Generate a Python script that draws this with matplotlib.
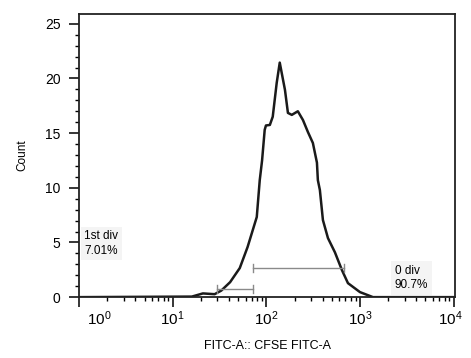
import numpy as np
import matplotlib
matplotlib.use("Agg")
import matplotlib.pyplot as plt
import matplotlib.transforms as mtransforms
from matplotlib.ticker import FixedLocator, LogLocator, NullFormatter, MultipleLocator

plt.rcParams['font.family'] = ['Liberation Sans', 'DejaVu Sans']
plt.rcParams['mathtext.default'] = 'regular'

# Histograma CFSE
fitc = [1, 16, 21, 28, 33, 41, 52, 63, 79, 85, 90, 96, 99, 109, 117, 129, 139,
        158, 170, 187, 217, 246, 278, 314, 347, 355, 373, 402, 455, 540, 642,
        744, 1000, 1377, 10000]
count = [0, 0.05, 0.34, 0.27, 0.6, 1.37, 2.66, 4.58, 7.33, 10.7, 12.5, 15.3,
         15.7, 15.75, 16.5, 19.6, 21.45, 18.96, 16.85, 16.67, 17.0, 16.2, 15.1,
         14.1, 12.3, 10.7, 9.8, 7.05, 5.4, 4.1, 2.47, 1.28, 0.46, 0, 0]

# Compuertas: (x_min, x_max, altura)
gates = [
    (29.6, 71.8, 0.75),
    (71.8, 675, 2.66),
]

xticks = [1, 10, 100, 1000, 10000]
xticklabels = ["10$^{0}$", "10$^{1}$", "10$^{2}$", "10$^{3}$", "10$^{4}$"]

fig = plt.figure(figsize=(4.71, 3.58), dpi=100)
ax = fig.add_axes([0.168, 0.170, 0.798, 0.791])

ax.plot(fitc, count, color='#1a1a1a', lw=1.8, solid_joinstyle='round')

for x0, x1, h in gates:
    ax.plot([x0, x1], [h, h], color='#8a8a8a', lw=1.0)
    ax.plot([x0, x0], [h - 0.35, h + 0.35], color='#8a8a8a', lw=1.0)
    ax.plot([x1, x1], [h - 0.35, h + 0.35], color='#8a8a8a', lw=1.0)

box = dict(boxstyle='square,pad=0.3', fc='#f4f4f4', ec='none')
ax.text(1.14, 4.9, "1st div\n7.01%", fontsize=8.5, ha='left', va='center',
        linespacing=1.25, bbox=box)
ax.text(2350, 1.75, "0 div\n90.7%", fontsize=8.5, ha='left', va='center',
        linespacing=1.25, bbox=box)

ax.set_xscale('log')
ax.set_xlim(1, 10 ** 4.015)
ax.set_ylim(0, 25.9)

ax.xaxis.set_major_locator(FixedLocator(xticks))
ax.set_xticklabels(xticklabels)
ax.xaxis.set_minor_locator(LogLocator(base=10, subs=np.arange(2, 10)))
ax.xaxis.set_minor_formatter(NullFormatter())
ax.yaxis.set_major_locator(MultipleLocator(5))
ax.yaxis.set_minor_locator(MultipleLocator(1))

ax.tick_params(which='major', direction='out', length=7.5, width=1.1, pad=2)
ax.tick_params(which='minor', direction='out', length=3, width=1.0)
ax.tick_params(top=False, right=False, which='both')
ax.tick_params(axis='y', labelsize=10, pad=6)
ax.tick_params(axis='x', labelsize=11, pad=1)

for s in ax.spines.values():
    s.set_linewidth(1.3)
    s.set_color('#222222')

# desplazar la primera y última etiqueta como en el original
labels = ax.get_xticklabels()
labels[0].set_transform(labels[0].get_transform() +
                        mtransforms.ScaledTranslation(0.2, 0, fig.dpi_scale_trans))
labels[-1].set_transform(labels[-1].get_transform() +
                         mtransforms.ScaledTranslation(-0.03, 0, fig.dpi_scale_trans))

ax.set_ylabel("Count", fontsize=8.5, labelpad=12)
ax.set_xlabel("FITC-A:: CFSE FITC-A", fontsize=9, labelpad=9)

fig.savefig("out.png", dpi=100)
